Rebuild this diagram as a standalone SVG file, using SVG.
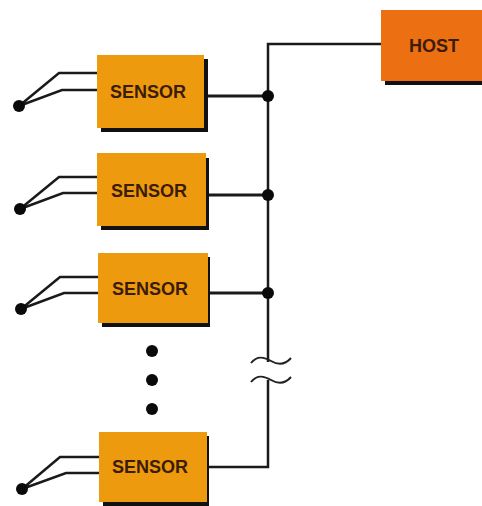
<svg xmlns="http://www.w3.org/2000/svg" width="482" height="506" viewBox="0 0 482 506">
<style>
.shadow{fill:#111}
.sensor{fill:#ee9a0e}
.host{fill:#ec6f12}
.wire{fill:none;stroke:#1a1a1a;stroke-width:3;stroke-linejoin:miter}
.thin{fill:none;stroke:#1a1a1a;stroke-width:2.5}
.dot{fill:#0a0a0a}
text{font-family:"Liberation Sans",Arial,sans-serif;font-weight:bold;font-size:18px;fill:#3a1c08;text-anchor:middle}
</style>
<rect width="482" height="506" fill="#fff"/>
<g id="connectors">
<path class="thin" d="M381 44H268V362M268 380V467H208"/>
<path class="wire" d="M208 96H268M209 195H268M209 293H268"/>
<path class="thin" d="M19 106L59 73H97M19 106L62 90H97"/>
<path class="thin" d="M20 209L59 177H97M20 209L63 193H97"/>
<path class="thin" d="M21 309L60 277H98M21 309L64 293H98"/>
<path class="thin" d="M22 489L60 457H99M22 489L66 473H99"/>
<path d="M251 363C258 354 266 358 271 361C278 365 285 365 291 358" fill="none" stroke="#222" stroke-width="2"/>
<path d="M251 382C258 373 266 377 271 380C278 384 285 384 291 377" fill="none" stroke="#222" stroke-width="2"/>
<circle class="dot" cx="268" cy="96" r="6"/>
<circle class="dot" cx="268" cy="195" r="6"/>
<circle class="dot" cx="268" cy="293" r="6"/>
<circle class="dot" cx="19" cy="106" r="6"/>
<circle class="dot" cx="20" cy="209" r="6"/>
<circle class="dot" cx="21" cy="309" r="6"/>
<circle class="dot" cx="22" cy="489" r="6"/>
</g>
<g id="sensor1"><rect class="shadow" x="101" y="59" width="107" height="73"/><rect class="sensor" x="97" y="55" width="107" height="73"/><text x="148" y="98">SENSOR</text></g>
<g id="sensor2"><rect class="shadow" x="101" y="158" width="108" height="72"/><rect class="sensor" x="97" y="153" width="109" height="73"/><text x="149" y="197">SENSOR</text></g>
<g id="sensor3"><rect class="shadow" x="102" y="257" width="108" height="70"/><rect class="sensor" x="98" y="253" width="110" height="70"/><text x="150" y="295">SENSOR</text></g>
<g id="sensor4"><rect class="shadow" x="103" y="436" width="106" height="70"/><rect class="sensor" x="99" y="432" width="108" height="70"/><text x="150" y="473">SENSOR</text></g>
<g id="host"><rect class="shadow" x="385" y="14" width="97" height="71"/><rect class="host" x="381" y="10" width="101" height="71"/><text x="434" y="52">HOST</text></g>
<g id="ellipsis"><circle class="dot" cx="152" cy="351" r="6"/><circle class="dot" cx="152" cy="380" r="6"/><circle class="dot" cx="152" cy="409" r="6"/></g>
</svg>
